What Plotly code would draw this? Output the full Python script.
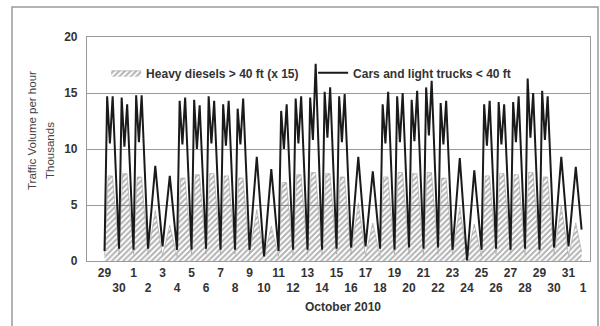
import plotly.graph_objects as go

# Day labels along the time axis (Sep 29 .. Nov 1, 2010)
tick_labels = ["29", "30", "1", "2", "3", "4", "5", "6", "7", "8", "9", "10",
               "11", "12", "13", "14", "15", "16", "17", "18", "19", "20",
               "21", "22", "23", "24", "25", "26", "27", "28", "29", "30",
               "31", "1"]

# W = weekday (two rush-hour peaks), S = weekend (single midday hump)
day_kind = "WWWSSWWWWWSSWWWWWSSWWWWWSSWWWWWSS"

# Cars and light trucks, thousands per hour
car_low = [0.9, 1.1, 1.0, 1.1, 1.3,
           1.0, 1.0, 1.1, 1.0, 1.0,
           1.0, 0.4,
           0.9, 1.0, 1.0, 1.0, 1.1,
           1.2, 1.3,
           1.1, 1.0, 1.2, 1.1, 1.2,
           1.0, 0.05,
           1.0, 1.1, 1.0, 1.1, 1.0,
           1.2, 1.3]
car_am = [14.7, 14.6, 14.8, 8.5, 7.6,
          14.3, 14.4, 14.7, 14.0, 13.6,
          9.3, 8.2,
          13.4, 14.5, 14.6, 15.1, 14.7,
          9.3, 8.0,
          14.0, 14.7, 14.4, 15.5, 14.1,
          9.2, 8.1,
          14.0, 14.2, 14.2, 16.3, 15.2,
          9.3, 8.4]
car_mid = [10.5, 10.2, 10.6, None, None,
           10.4, 10.0, 10.5, 10.3, 10.4,
           None, None,
           10.0, 10.5, 10.8, 11.0, 10.6,
           None, None,
           10.5, 10.6, 10.7, 11.2, 10.4,
           None, None,
           10.3, 10.4, 10.6, 11.0, 10.8,
           None, None]
car_pm = [14.7, 14.0, 14.8, None, None,
          14.6, 13.9, 14.3, 14.3, 14.5,
          None, None,
          14.0, 14.7, 17.6, 15.5, 14.9,
          None, None,
          15.1, 15.0, 15.2, 16.1, 14.3,
          None, None,
          14.3, 14.0, 14.7, 15.0, 14.7,
          None, None]
car_end = 2.8

# Heavy diesels > 40 ft, scaled x 15, thousands per hour
heavy_low = [0.5, 0.6, 0.6, 0.6, 0.5,
             0.4, 0.6, 0.6, 0.6, 0.6,
             0.6, 0.4,
             0.4, 0.6, 0.6, 0.6, 0.6,
             0.6, 0.5,
             0.4, 0.6, 0.6, 0.6, 0.6,
             0.6, 0.3,
             0.4, 0.6, 0.6, 0.6, 0.6,
             0.6, 0.5]
heavy_peak = [7.6, 7.8, 7.5, 4.5, 3.2,
              7.4, 7.7, 7.8, 7.6, 7.4,
              4.6, 3.1,
              7.0, 7.7, 7.9, 7.8, 7.5,
              5.2, 3.4,
              7.5, 7.9, 7.8, 7.9, 7.4,
              4.8, 3.3,
              7.6, 7.8, 7.7, 7.9, 7.5,
              4.9, 3.4]
heavy_end = 0.8

# Build the hourly-profile key points for each day
car_x, car_y = [], []
hv_x, hv_y = [], []
for i, kind in enumerate(day_kind):
    car_x.append(i)
    car_y.append(car_low[i])
    hv_x.append(i)
    hv_y.append(heavy_low[i])
    if kind == "W":
        car_x += [i + 0.18, i + 0.37, i + 0.56]
        car_y += [car_am[i], car_mid[i], car_pm[i]]
        hv_x += [i + 0.25, i + 0.55]
        hv_y += [heavy_peak[i], heavy_peak[i]]
    else:
        car_x.append(i + 0.5)
        car_y.append(car_am[i])
        hv_x.append(i + 0.5)
        hv_y.append(heavy_peak[i])
car_x.append(32.9)
car_y.append(car_end)
hv_x.append(32.9)
hv_y.append(heavy_end)

fig = go.Figure()
fig.add_trace(go.Scatter(
    x=hv_x, y=hv_y, mode="lines", name="Heavy diesels > 40 ft (x 15)",
    line=dict(color="#a0a0a0", width=0.6),
    fill="tozeroy",
    fillpattern=dict(shape="/", fgcolor="#666666", bgcolor="rgba(255,255,255,0)",
                     size=4, solidity=0.5),
))
fig.add_trace(go.Scatter(
    x=car_x, y=car_y, mode="lines", name="Cars and light trucks < 40 ft",
    line=dict(color="#1a1a1a", width=2),
))

L, R, T, B = 87, 10, 37, 65
W, H = 600 - L - R, 326 - T - B

fig.update_layout(
    width=600, height=326,
    margin=dict(l=L, r=R, t=T, b=B),
    paper_bgcolor="white", plot_bgcolor="white",
    font=dict(family="Liberation Sans, Arial, sans-serif", color="#333"),
    showlegend=True,
    legend=dict(orientation="h", x=0.038, y=0.84, xanchor="left", yanchor="middle",
                bgcolor="rgba(0,0,0,0)",
                font=dict(size=12, color="#333", family="Liberation Sans, Arial",
                          weight="bold"),
                itemwidth=30, tracegroupgap=0,
                entrywidth=162, entrywidthmode="pixels"),
    xaxis=dict(
        range=[-1.21, 33.48],
        tickmode="array",
        tickvals=list(range(len(tick_labels))),
        ticktext=[lab if k % 2 == 0 else "<br>" + lab for k, lab in enumerate(tick_labels)],
        tickangle=0,
        tickfont=dict(size=12, color="#333", family="Liberation Sans, Arial", weight="bold"),
        ticks="",
        showgrid=False, zeroline=False,
        showline=True, linecolor="#9a9a9a", linewidth=1.2, mirror=True,
    ),
    yaxis=dict(
        range=[0, 20],
        tickvals=[0, 5, 10, 15, 20],
        tickfont=dict(size=12, color="#333", family="Liberation Sans, Arial", weight="bold"),
        ticks="", ticklabelstandoff=6,
        showgrid=True, gridcolor="#9a9a9a", gridwidth=1,
        zeroline=False,
        showline=True, linecolor="#9a9a9a", linewidth=1.2, mirror=True,
    ),
    shapes=[dict(type="rect", xref="paper", yref="paper",
                 x0=(12 - L) / W, x1=(598 - L) / W,
                 y0=(T + H - 340) / H, y1=(T + H - 7) / H,
                 line=dict(color="#9a9a9a", width=1.5), layer="below")],
    annotations=[
        dict(text="Traffic Volume per hour", xref="paper", yref="paper",
             x=(24 - L) / W, y=(T + H - 131) / H, textangle=-90, showarrow=False,
             font=dict(size=11.5, color="#444")),
        dict(text="Thousands", xref="paper", yref="paper",
             x=(42 - L) / W, y=(T + H - 151) / H, textangle=-90, showarrow=False,
             font=dict(size=11.5, color="#444")),
        dict(text="October 2010", xref="paper", yref="paper",
             x=(343 - L) / W, y=(T + H - 316) / H, showarrow=False,
             font=dict(size=12, color="#333", weight="bold")),
    ],
)

fig.write_html("out.html")
